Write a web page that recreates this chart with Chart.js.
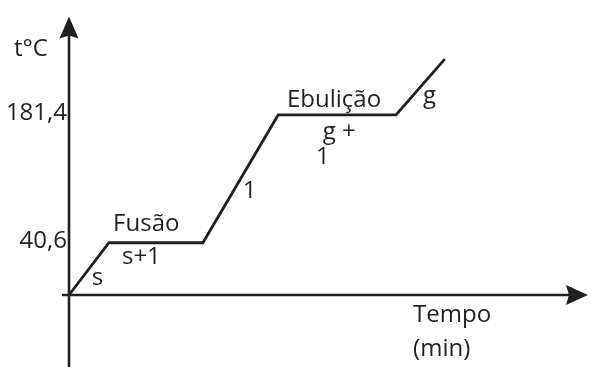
<!DOCTYPE html>
<html>
<head>
<meta charset="utf-8">
<script src="https://cdn.jsdelivr.net/npm/chart.js@4/dist/chart.umd.min.js"></script>
<style>
  html, body { margin: 0; padding: 0; background: #fff; }
  #wrap { width: 591px; height: 367px; }
</style>
</head>
<body>
<div id="wrap"><canvas id="heatingChart"></canvas></div>
<script>
// Curva de aquecimento (fora de escala)
const times = [0, 0.77, 2.58, 4.03, 6.30, 7.24];          // tempo (min)
const temps = [-17, 40.6, 40.6, 181.4, 181.4, 243];       // t (°C)
const tickTemps = [40.6, 181.4];
const axisMin = { x: 0, y: -17 };
const axisMax = { x: 10, y: 290 };

// textos do diagrama, ancorados em coordenadas de dados
const labelTexts = ['t°C', 'Fusão', 's+1', 's', '1', 'Ebulição', 'g +', '1', 'g', 'Tempo', '(min)'];
const labelX = [-1.06, 0.85, 1.02, 0.44, 3.35, 4.20, 4.89, 4.76, 6.82, 6.63, 6.63];
const labelY = [246.6, 53.5, 17.7, -6.2, 90.4, 190.2, 154.4, 127.3, 194.5, -46.3, -84.3];

const INK = '#231f20';
const FONT = '"Open Sans", "Noto Sans", sans-serif';

const axesPlugin = {
    id: 'axesArrows',
    beforeDatasetsDraw(chart) {
        const { ctx, scales: { x, y }, chartArea } = chart;
        const x0 = x.getPixelForValue(axisMin.x);
        const y0 = y.getPixelForValue(axisMin.y);
        ctx.save();
        ctx.strokeStyle = INK;
        ctx.fillStyle = INK;
        ctx.lineWidth = 2.6;
        // eixo vertical
        ctx.beginPath();
        ctx.moveTo(x0, chartArea.top + 18);
        ctx.lineTo(x0, chart.height);
        ctx.stroke();
        ctx.beginPath();
        ctx.moveTo(x0, chartArea.top);
        ctx.lineTo(x0 + 9.5, chartArea.top + 22);
        ctx.lineTo(x0, chartArea.top + 19);
        ctx.lineTo(x0 - 9.5, chartArea.top + 22);
        ctx.closePath();
        ctx.fill();
        // eixo horizontal
        ctx.beginPath();
        ctx.moveTo(x0 - 7, y0);
        ctx.lineTo(chartArea.right - 18, y0);
        ctx.stroke();
        ctx.beginPath();
        ctx.moveTo(chartArea.right, y0);
        ctx.lineTo(chartArea.right - 22, y0 - 10);
        ctx.lineTo(chartArea.right - 19, y0);
        ctx.lineTo(chartArea.right - 22, y0 + 10);
        ctx.closePath();
        ctx.fill();
        ctx.restore();
    },
    afterDraw(chart) {
        const { ctx, scales: { x, y } } = chart;
        ctx.save();
        ctx.fillStyle = INK;
        ctx.font = '24px ' + FONT;
        ctx.textAlign = 'left';
        ctx.textBaseline = 'alphabetic';
        labelTexts.forEach((t, i) => {
            ctx.fillText(t, x.getPixelForValue(labelX[i]), y.getPixelForValue(labelY[i]));
        });
        ctx.restore();
    }
};

new Chart(document.getElementById('heatingChart'), {
    type: 'line',
    data: {
        datasets: [{
            data: times.map((t, i) => ({ x: t, y: temps[i] })),
            borderColor: INK,
            borderWidth: 2.8,
            pointRadius: 0,
            tension: 0,
            fill: false,
            clip: false
        }]
    },
    options: {
        responsive: true,
        maintainAspectRatio: false,
        animation: false,
        layout: { padding: { top: 12, right: 3, bottom: 72, left: 0 } },
        plugins: {
            legend: { display: false },
            tooltip: { enabled: false }
        },
        scales: {
            x: {
                type: 'linear',
                display: false,
                min: axisMin.x,
                max: axisMax.x
            },
            y: {
                type: 'linear',
                min: axisMin.y,
                max: axisMax.y,
                grid: { display: false, drawTicks: false },
                border: { display: false },
                afterBuildTicks(scale) {
                    scale.ticks = tickTemps.map(v => ({ value: v }));
                },
                afterFit(scale) {
                    scale.width = 69;
                },
                ticks: {
                    color: INK,
                    padding: 2,
                    labelOffset: -2,
                    font: { family: FONT, size: 24 },
                    callback: v => String(v).replace('.', ',')
                }
            }
        }
    },
    plugins: [axesPlugin]
});
</script>
</body>
</html>
